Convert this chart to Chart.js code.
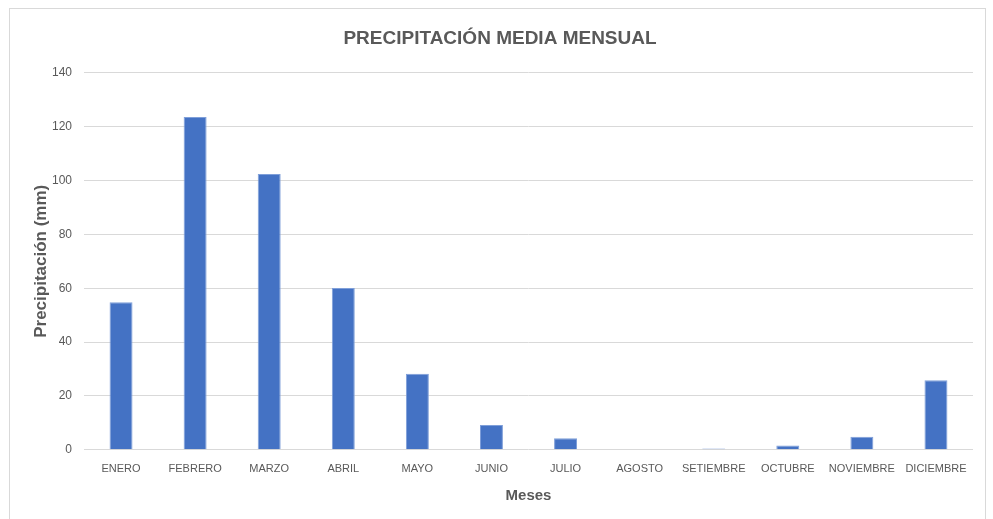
<!DOCTYPE html>
<html>
<head>
<meta charset="utf-8">
<script src="https://cdn.jsdelivr.net/npm/chart.js@4.4.0/dist/chart.umd.min.js"></script>
<style>
  html, body { margin: 0; padding: 0; background: #fff; overflow: hidden; }
  #frame { position: absolute; left: 9px; top: 8px; width: 977px; height: 540px; border: 1px solid #d9d9d9; box-sizing: border-box; }
  #wrap { position: absolute; left: 0; top: 0; width: 993px; height: 519px; }
</style>
</head>
<body>
<div id="frame"></div>
<div id="wrap"><canvas id="chart"></canvas></div>
<script>
const meses = ['ENERO', 'FEBRERO', 'MARZO', 'ABRIL', 'MAYO', 'JUNIO', 'JULIO', 'AGOSTO', 'SETIEMBRE', 'OCTUBRE', 'NOVIEMBRE', 'DICIEMBRE'];
const precipitacion = [54.8, 123.6, 102.4, 60.1, 28.2, 9.2, 4.3, 0, 0.5, 1.6, 4.8, 25.8];
const yTicks = [0, 20, 40, 60, 80, 100, 120, 140];

const gris = '#595959';
const fuente = "'Liberation Sans', Arial, sans-serif";

new Chart(document.getElementById('chart'), {
    type: 'bar',
    data: {
        labels: meses,
        datasets: [{
            label: 'Precipitación',
            data: precipitacion,
            backgroundColor: '#4472C4',
            borderColor: '#7f9fd9',
            borderWidth: 1,
            categoryPercentage: 1,
            barPercentage: 0.31
        }]
    },
    options: {
        responsive: true,
        maintainAspectRatio: false,
        animation: false,
        layout: { padding: { left: 27, right: 20, top: 21, bottom: 10 } },
        plugins: {
            legend: { display: false },
            tooltip: { enabled: false },
            title: {
                display: true,
                text: 'PRECIPITACIÓN MEDIA MENSUAL',
                color: gris,
                font: { family: fuente, size: 19, weight: 'bold' },
                padding: { top: 6, bottom: 23 }
            }
        },
        scales: {
            x: {
                grid: { display: false },
                border: { display: false },
                ticks: { color: gris, font: { family: fuente, size: 11 }, padding: 5, maxRotation: 0, autoSkip: false },
                title: {
                    display: true,
                    text: 'Meses',
                    color: gris,
                    font: { family: fuente, size: 15, weight: 'bold' },
                    padding: { top: 6 }
                }
            },
            y: {
                min: 0,
                max: 140,
                afterBuildTicks: axis => { axis.ticks = yTicks.map(v => ({ value: v })); },
                afterFit: axis => { axis.width = 57; },
                grid: { color: '#d9d9d9', lineWidth: 1, drawTicks: false },
                border: { display: false },
                ticks: { color: gris, font: { family: fuente, size: 12 }, padding: 12 },
                title: {
                    display: true,
                    text: 'Precipitación (mm)',
                    color: gris,
                    font: { family: fuente, size: 17, weight: 'bold' },
                    padding: { bottom: 0 }
                }
            }
        }
    }
});
</script>
</body>
</html>
